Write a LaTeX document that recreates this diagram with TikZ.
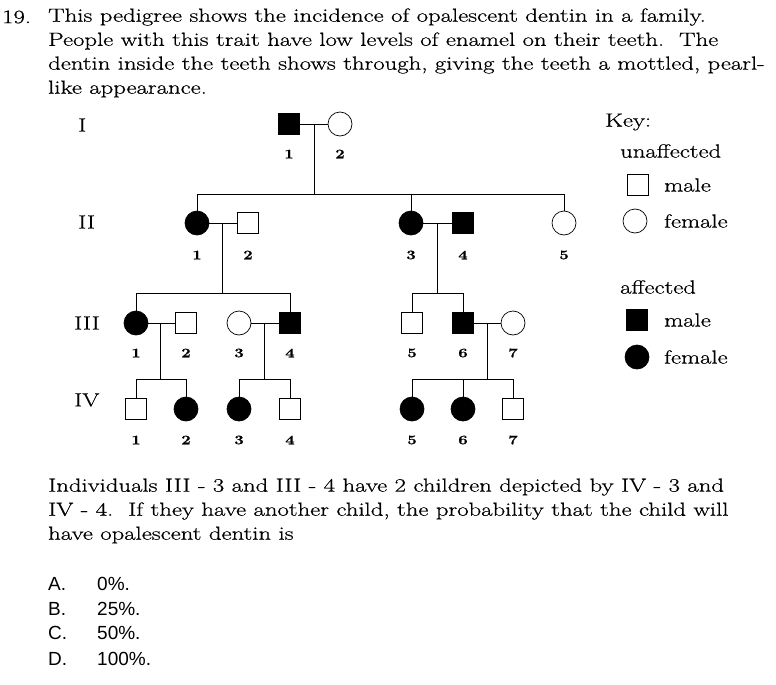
\documentclass[tikz,border=0pt]{standalone}
\usepackage{fontspec}
\newfontfamily\ansfont{Liberation Sans}
\newfontfamily\schfont[FakeStretch=1.3,FakeBold=0.6]{Latin Modern Roman}
\begin{document}
\begin{tikzpicture}[x=1pt,y=-1pt,
  m/.style={draw,minimum size=21pt,inner sep=0pt,line width=0.7pt},
  f/.style={draw,circle,minimum size=24pt,inner sep=0pt,line width=0.7pt},
  aff/.style={fill=black},
  lbl/.style={font=\schfont\fontsize{13}{15}\selectfont\bfseries},
  txt/.style={anchor=west,inner sep=0pt,font=\schfont\fontsize{19}{23}\selectfont},
  ans/.style={anchor=west,inner sep=0pt,font=\ansfont\fontsize{19}{22}\selectfont},
  ln/.style={line width=0.7pt}]
\useasboundingbox (0,0) rectangle (776,685);
% header text
\node[txt] (h0) at (2,17) {19.};
\node[txt] (h1) at (48,17) {This pedigree shows the incidence of opalescent dentin in a family.};
\node[txt] (h2) at (48,41) {People with this trait have low levels of enamel on their teeth.\ \ The};
\node[txt] (h3) at (48,65) {dentin inside the teeth shows through, giving the teeth a mottled, pearl-};
\node[txt] (h4) at (48,89) {like appearance.};
% generation labels
\node[txt] (gI) at (78,125) {I};
\node[txt] (gII) at (78,222) {II};
\node[txt] (gIII) at (74,323) {III};
\node[txt] (gIV) at (74,400) {IV};
% gen I
\node[m,aff] (i1) at (289,124) {};
\node[f] (i2) at (340,124) {};
% gen II
\node[f,aff] (ii1) at (197,223) {};
\node[m] (ii2) at (248,223) {};
\node[f,aff] (ii3) at (411,223) {};
\node[m,aff] (ii4) at (463,223) {};
\node[f] (ii5) at (564,223) {};
% gen III
\node[f,aff] (iii1) at (136,323) {};
\node[m] (iii2) at (186,323) {};
\node[f] (iii3) at (239,323) {};
\node[m,aff] (iii4) at (290,323) {};
\node[m] (iii5) at (412,323) {};
\node[m,aff] (iii6) at (463,323) {};
\node[f] (iii7) at (513,323) {};
% gen IV
\node[m] (iv1) at (136,409) {};
\node[f,aff] (iv2) at (186,409) {};
\node[f,aff] (iv3) at (239,409) {};
\node[m] (iv4) at (290,409) {};
\node[f,aff] (iv5) at (412,409) {};
\node[f,aff] (iv6) at (463,409) {};
\node[m] (iv7) at (513,409) {};
% numbers
\foreach \n/\x in {1/289,2/340} \node[lbl] (ni\n) at (\x,154) {\n};
\foreach \n/\x in {1/197,2/248,3/411,4/463,5/564} \node[lbl] (nii\n) at (\x,255) {\n};
\foreach \n/\x in {1/136,2/186,3/239,4/290,5/412,6/463,7/513} \node[lbl] (niii\n) at (\x,353) {\n};
\foreach \n/\x in {1/136,2/186,3/239,4/290,5/412,6/463,7/513} \node[lbl] (niv\n) at (\x,440) {\n};
% connectors
\coordinate (c1) at (314,124); \coordinate (s1) at (314,194);
\draw[ln] (i1) -- (i2);
\draw[ln] (c1) -- (s1);
\draw[ln] (ii1.north) |- (ii5.north |- s1) -- (ii5.north);
\draw[ln] (ii3.north) -- (ii3.north |- s1);
\draw[ln] (ii1) -- (ii2);
\draw[ln] (ii3) -- (ii4);
\coordinate (c2) at (222,223); \coordinate (s2) at (222,293);
\draw[ln] (c2) -- (s2);
\draw[ln] (iii1.north) |- (iii4.north |- s2) -- (iii4.north);
\coordinate (c3) at (437,223); \coordinate (s3) at (437,293);
\draw[ln] (c3) -- (s3);
\draw[ln] (iii5.north) |- (iii6.north |- s3) -- (iii6.north);
\draw[ln] (iii1) -- (iii2);
\draw[ln] (iii3) -- (iii4);
\draw[ln] (iii6) -- (iii7);
\coordinate (c4) at (160,323); \coordinate (s4) at (160,379);
\draw[ln] (c4) -- (s4);
\draw[ln] (iv1.north) |- (iv2.north |- s4) -- (iv2.north);
\coordinate (c5) at (264,323); \coordinate (s5) at (264,379);
\draw[ln] (c5) -- (s5);
\draw[ln] (iv3.north) |- (iv4.north |- s5) -- (iv4.north);
\coordinate (c6) at (487,323); \coordinate (s6) at (487,379);
\draw[ln] (c6) -- (s6);
\draw[ln] (iv5.north) |- (iv7.north |- s6) -- (iv7.north);
\draw[ln] (iv6.north) -- (iv6.north |- s6);
% key
\node[txt] (key) at (605,122) {Key:};
\node[txt] (unaf) at (620,151) {unaffected};
\node[m] (k1) at (638,185) {};
\node[txt] (k1t) at (664,185) {male};
\node[f] (k2) at (635,221) {};
\node[txt] (k2t) at (664,221) {female};
\node[txt] (af) at (620,287) {affected};
\node[m,aff] (k3) at (637,320) {};
\node[txt] (k3t) at (664,320) {male};
\node[f,aff] (k4) at (637,357) {};
\node[txt] (k4t) at (664,357) {female};
% question
\node[txt] (q1) at (48,487) {Individuals III - 3 and III - 4 have 2 children depicted by IV - 3 and};
\node[txt] (q2) at (48,511) {IV - 4.\ \ If they have another child, the probability that the child will};
\node[txt] (q3) at (48,535) {have opalescent dentin is};
\foreach \l/\v/\y in {A/0/584,B/25/609,C/50/633,D/100/659}{
  \node[ans] (a\l) at (48,\y) {\l.};
  \node[ans] (v\l) at (97,\y) {\v\%.};
}
\end{tikzpicture}
\end{document}
